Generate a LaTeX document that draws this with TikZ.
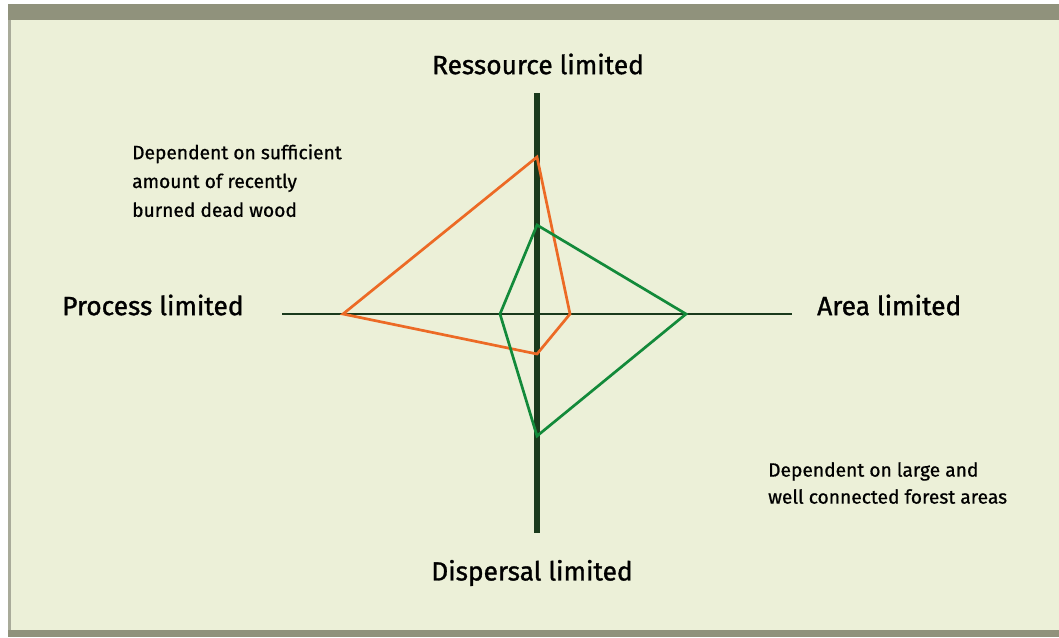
\documentclass[tikz,border=0pt]{standalone}
\usepackage{fontspec}
\setmainfont{Fira Sans}
\newfontfamily\labfont[FakeBold=1.2]{Fira Sans}
\newfontfamily\notefont[FakeBold=0.8]{Fira Sans}
\definecolor{bgc}{HTML}{ECF0D8}
\definecolor{bandc}{HTML}{90927C}
\definecolor{edgec}{HTML}{A9AB9A}
\definecolor{axisc}{HTML}{1A3A1C}
\definecolor{orangec}{HTML}{EC6A25}
\definecolor{greenc}{HTML}{138A3A}
\begin{document}
\begin{tikzpicture}[x=1pt,y=-1pt,
  axislabel/.style={font=\labfont\fontsize{26.3}{30}\selectfont, inner sep=0pt},
  note/.style={font=\notefont\fontsize{19.2}{28.8}\selectfont, inner sep=0pt, align=left},
  poly/.style={line width=2.7pt, line join=miter}]
\useasboundingbox (0,0) rectangle (1059,637);
\fill[white] (0,0) rectangle (1059,637);
\fill[bgc] (8,4) rectangle (1059,637);
\fill[bandc] (8,4) rectangle (1059,20);
\fill[bandc] (8,630) rectangle (1059,637);
\fill[edgec] (8,20) rectangle (11,630);
% axes
\coordinate (ytop) at (537,93);
\coordinate (ybot) at (537,533);
\coordinate (xl) at (282,314);
\coordinate (xr) at (792,314);
\draw[axisc, line width=2pt] (xl) -- (xr);
\draw[axisc, line width=5.5pt] (ytop) -- (ybot);
% orange polygon
\coordinate (o1) at (537,157);
\coordinate (o2) at (570,314);
\coordinate (o3) at (537,354);
\coordinate (o4) at (343,314);
\draw[poly, orangec] (o1) -- (o2) -- (o3) -- (o4) -- cycle;
% green polygon
\coordinate (g1) at (537,225);
\coordinate (g2) at (686,314);
\coordinate (g3) at (537,436);
\coordinate (g4) at (500,314);
\draw[poly, greenc] (g1) -- (g2) -- (g3) -- (g4) -- cycle;
% labels
\node[axislabel] (top) at (538,64) {Ressource limited};
\node[axislabel] (bot) at (532,573) {Dispersal limited};
\node[axislabel, anchor=west] (left) at (62,305) {Process limited};
\node[axislabel, anchor=west] (right) at (817,305) {Area limited};
\node[note, anchor=north west] (n1) at (132,144) {Dependent on sufficient\\amount of recently\\burned dead wood};
\node[note, anchor=north west, font=\notefont\fontsize{19.2}{27}\selectfont] (n2) at (768,462) {Dependent on large and\\well connected forest areas};
\end{tikzpicture}
\end{document}
